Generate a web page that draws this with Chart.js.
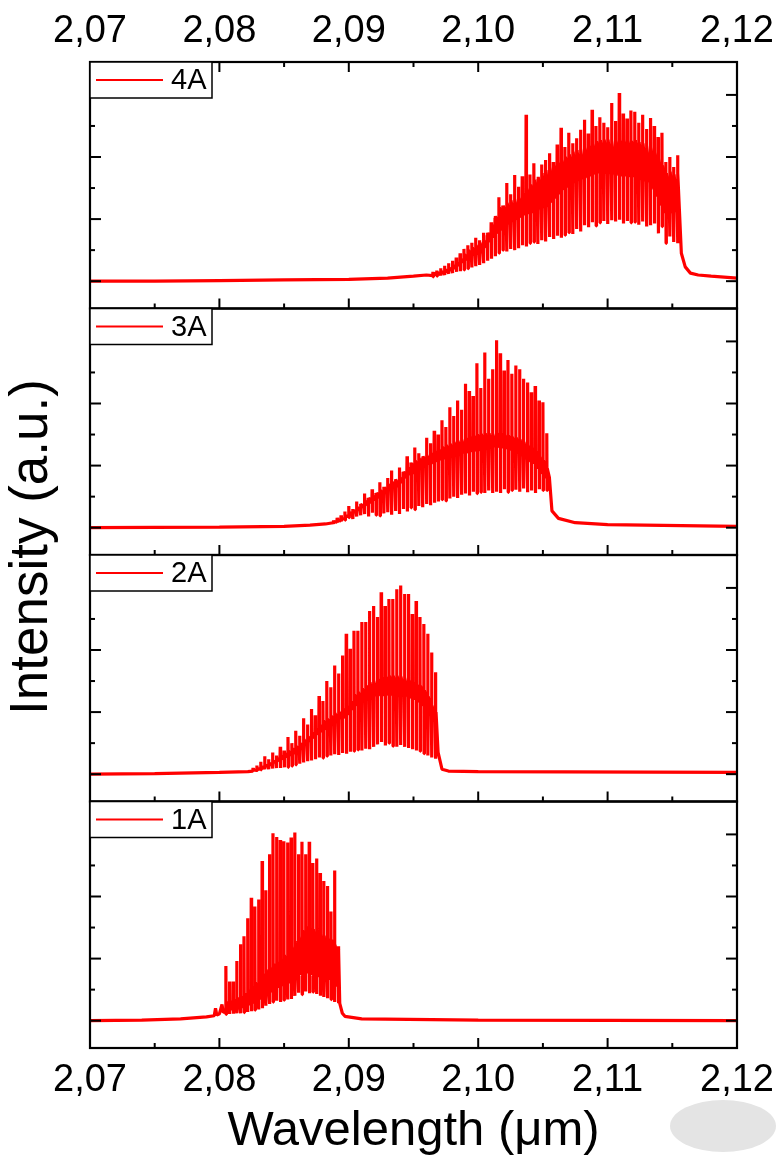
<!DOCTYPE html>
<html>
<head>
<meta charset="utf-8">
<script src="https://cdn.jsdelivr.net/npm/chart.js@4.4.1/dist/chart.umd.min.js"></script>
<style>
  body { margin: 0; background: #fff; }
  #wrap { position: relative; width: 780px; height: 1161px; }
  #smudge { position: absolute; left: 670px; top: 1100px; width: 106px; height: 52px; border-radius: 50%; background: #e4e4e4; }
</style>
</head>
<body>
<div id="wrap">
  <canvas id="spectra" width="780" height="1161"></canvas>
  <div id="smudge"></div>
</div>
<script>
const panelLabels = ['4A', '3A', '2A', '1A'];
const xMajor = [2.07, 2.08, 2.09, 2.10, 2.11, 2.12];
const xMinor = [2.075, 2.085, 2.095, 2.105, 2.115];
const yMajor = [0, 1, 2, 3];
const yMinor = [0.5, 1.5, 2.5];

// longitudinal modes: first mode position and mode spacing (um) per panel
const combStart = [2.0965, 2.0888, 2.0826, 2.0805];
const combStep = [0.0003, 0.0003, 0.0003, 0.00028];

// 4A
const top4A = [0.15, 0.17, 0.21, 0.25, 0.29, 0.33, 0.38, 0.45, 0.52, 0.58,
  0.62, 0.70, 0.66, 0.78, 0.74, 0.95, 1.02, 1.35, 1.22, 1.58,
  1.40, 1.71, 1.52, 1.69, 2.68, 1.72, 1.90, 1.64, 1.88, 1.95,
  2.06, 1.92, 2.20, 2.47, 2.16, 2.39, 2.22, 2.30, 2.44, 2.60,
  2.38, 2.76, 2.50, 2.64, 2.55, 2.48, 2.87, 2.58, 3.03, 2.70,
  2.62, 2.75, 2.73, 2.55, 2.68, 2.45, 2.63, 2.50, 2.32, 2.39,
  1.92, 2.00, 1.84, 2.03];
const dip4A = [0.07, 0.08, 0.09, 0.10, 0.12, 0.13, 0.15, 0.16, 0.18, 0.20,
  0.22, 0.24, 0.26, 0.29, 0.33, 0.36, 0.40, 0.45, 0.50, 0.48,
  0.52, 0.50, 0.53, 0.58, 0.56, 0.61, 0.63, 0.60, 0.66, 0.64,
  0.71, 0.68, 0.73, 0.70, 0.74, 0.78, 0.76, 0.84, 0.80, 0.90,
  0.87, 0.95, 0.89, 0.94, 0.97, 0.92, 0.98, 0.96, 0.99, 0.93,
  0.97, 0.94, 0.95, 0.91, 0.96, 0.88, 0.90, 0.93, 0.77, 0.88,
  0.61, 0.72, 0.63, 0.61];
const bandHi4A = [0.13, 0.14, 0.16, 0.19, 0.22, 0.26, 0.30, 0.36, 0.43, 0.50,
  0.54, 0.58, 0.62, 0.66, 0.78, 0.92, 1.05, 1.19, 1.22, 1.26,
  1.30, 1.33, 1.35, 1.42, 1.50, 1.56, 1.63, 1.68, 1.74, 1.79,
  1.84, 1.88, 1.92, 1.96, 2.00, 2.04, 2.08, 2.11, 2.14, 2.16,
  2.19, 2.22, 2.25, 2.27, 2.28, 2.28, 2.27, 2.27, 2.28, 2.27,
  2.27, 2.26, 2.27, 2.24, 2.22, 2.19, 2.16, 2.08, 1.98, 1.86,
  1.74, 1.76, 1.72, 1.74];
const bandLo4A = [0.09, 0.10, 0.11, 0.12, 0.14, 0.17, 0.20, 0.25, 0.30, 0.34,
  0.38, 0.41, 0.43, 0.45, 0.54, 0.63, 0.70, 0.77, 0.82, 0.87,
  0.91, 0.95, 0.98, 1.02, 1.06, 1.08, 1.10, 1.12, 1.15, 1.17,
  1.19, 1.26, 1.33, 1.40, 1.47, 1.51, 1.55, 1.58, 1.61, 1.63,
  1.66, 1.69, 1.72, 1.74, 1.74, 1.73, 1.72, 1.70, 1.70, 1.69,
  1.69, 1.68, 1.68, 1.65, 1.62, 1.60, 1.58, 1.48, 1.36, 1.22,
  1.10, 1.12, 1.08, 1.10];
const edgeLam4A = [2.07, 2.075, 2.08, 2.085, 2.09, 2.093, 2.095, 2.096, 2.1157, 2.1160, 2.1164, 2.117, 2.118, 2.12];
const edgeVal4A = [0.0, 0.0, 0.01, 0.02, 0.03, 0.05, 0.08, 0.10, 0.45, 0.23, 0.13, 0.10, 0.08, 0.05];

// 3A
const top3A = [0.12, 0.16, 0.20, 0.26, 0.35, 0.30, 0.42, 0.38, 0.55, 0.48,
  0.62, 0.56, 0.73, 0.66, 0.80, 0.92, 0.78, 0.97, 0.90, 1.15,
  1.05, 1.29, 1.20, 1.13, 1.45, 1.36, 1.56, 1.50, 1.73, 1.62,
  1.94, 1.80, 2.05, 1.90, 2.32, 2.20, 2.12, 2.65, 2.25, 2.82,
  2.40, 2.55, 3.02, 2.81, 2.53, 2.70, 2.48, 2.61, 2.55, 2.40,
  2.34, 2.18, 2.28, 2.05, 2.02, 1.52];
const dip3A = [0.06, 0.08, 0.10, 0.12, 0.16, 0.14, 0.18, 0.20, 0.22, 0.18,
  0.24, 0.20, 0.19, 0.23, 0.25, 0.21, 0.27, 0.22, 0.30, 0.26,
  0.32, 0.29, 0.35, 0.33, 0.38, 0.36, 0.40, 0.42, 0.45, 0.43,
  0.47, 0.50, 0.48, 0.53, 0.55, 0.52, 0.58, 0.55, 0.57, 0.56,
  0.60, 0.56, 0.58, 0.56, 0.62, 0.57, 0.60, 0.61, 0.58, 0.63,
  0.57, 0.60, 0.56, 0.62, 0.60, 0.60];
const bandHi3A = [0.10, 0.12, 0.15, 0.19, 0.25, 0.28, 0.33, 0.38, 0.44, 0.48,
  0.52, 0.56, 0.60, 0.65, 0.70, 0.74, 0.78, 0.81, 0.90, 0.98,
  1.04, 1.08, 1.12, 1.15, 1.18, 1.21, 1.24, 1.27, 1.30, 1.33,
  1.35, 1.38, 1.40, 1.43, 1.45, 1.47, 1.49, 1.50, 1.51, 1.52,
  1.52, 1.52, 1.53, 1.52, 1.50, 1.48, 1.46, 1.45, 1.42, 1.38,
  1.33, 1.29, 1.24, 1.15, 1.08, 0.95];
const bandLo3A = [0.08, 0.09, 0.11, 0.14, 0.18, 0.21, 0.24, 0.28, 0.32, 0.36,
  0.40, 0.44, 0.48, 0.52, 0.56, 0.60, 0.63, 0.65, 0.72, 0.80,
  0.85, 0.87, 0.91, 0.95, 0.99, 1.01, 1.03, 1.06, 1.09, 1.11,
  1.13, 1.15, 1.16, 1.18, 1.19, 1.20, 1.22, 1.23, 1.24, 1.24,
  1.26, 1.28, 1.29, 1.29, 1.28, 1.27, 1.25, 1.24, 1.20, 1.15,
  1.10, 1.06, 1.03, 0.95, 0.87, 0.80];
const edgeLam3A = [2.07, 2.08, 2.085, 2.087, 2.0882, 2.1055, 2.1057, 2.1062, 2.1075, 2.11, 2.12];
const edgeVal3A = [0.0, 0.01, 0.02, 0.04, 0.06, 0.81, 0.27, 0.15, 0.08, 0.05, 0.02];

// 2A
const top2A = [0.10, 0.14, 0.20, 0.29, 0.24, 0.35, 0.30, 0.44, 0.38, 0.60,
  0.50, 0.70, 0.62, 0.90, 0.80, 1.05, 0.95, 1.26, 1.18, 1.50,
  1.40, 1.75, 1.62, 1.91, 2.26, 2.02, 2.31, 2.31, 2.45, 2.45,
  2.63, 2.71, 2.53, 2.93, 2.71, 2.82, 2.82, 2.98, 3.04, 2.90,
  2.90, 2.58, 2.79, 2.53, 2.42, 2.26, 1.96, 1.64];
const dip2A = [0.04, 0.06, 0.07, 0.08, 0.08, 0.09, 0.10, 0.10, 0.11, 0.11,
  0.13, 0.15, 0.17, 0.19, 0.21, 0.22, 0.24, 0.27, 0.26, 0.29,
  0.30, 0.32, 0.31, 0.34, 0.33, 0.36, 0.37, 0.39, 0.38, 0.41,
  0.40, 0.44, 0.48, 0.52, 0.46, 0.50, 0.45, 0.44, 0.47, 0.44,
  0.42, 0.40, 0.38, 0.37, 0.33, 0.30, 0.27, 0.25];
const bandHi2A = [0.07, 0.09, 0.12, 0.15, 0.18, 0.22, 0.26, 0.30, 0.34, 0.37,
  0.41, 0.45, 0.50, 0.56, 0.62, 0.68, 0.74, 0.80, 0.86, 0.89,
  0.94, 0.98, 1.02, 1.06, 1.10, 1.18, 1.28, 1.32, 1.38, 1.43,
  1.48, 1.51, 1.54, 1.56, 1.58, 1.58, 1.58, 1.58, 1.57, 1.56,
  1.52, 1.48, 1.45, 1.42, 1.35, 1.25, 1.10, 1.00];
const bandLo2A = [0.05, 0.06, 0.08, 0.10, 0.12, 0.15, 0.18, 0.21, 0.24, 0.27,
  0.30, 0.33, 0.37, 0.40, 0.46, 0.52, 0.58, 0.64, 0.68, 0.72,
  0.76, 0.80, 0.84, 0.88, 0.90, 0.96, 1.04, 1.10, 1.14, 1.18,
  1.21, 1.23, 1.25, 1.26, 1.26, 1.27, 1.27, 1.26, 1.26, 1.25,
  1.24, 1.22, 1.20, 1.16, 1.10, 1.02, 0.94, 0.85];
const edgeLam2A = [2.07, 2.075, 2.08, 2.0822, 2.0969, 2.0972, 2.0977, 2.10, 2.12];
const edgeVal2A = [0.0, 0.01, 0.03, 0.04, 0.35, 0.08, 0.05, 0.04, 0.03];

// 1A
const top1A = [0.88, 0.63, 0.63, 0.96, 1.23, 1.36, 1.65, 1.98, 1.84, 1.95,
  2.57, 2.10, 2.68, 3.02, 2.96, 2.91, 2.89, 2.87, 2.95, 3.03,
  2.68, 2.88, 2.68, 2.88, 2.54, 2.61, 2.38, 2.25, 2.17, 1.76,
  2.42, 1.20];
const dip1A = [0.10, 0.11, 0.11, 0.12, 0.12, 0.13, 0.14, 0.15, 0.17, 0.18,
  0.20, 0.24, 0.27, 0.30, 0.32, 0.30, 0.33, 0.34, 0.35, 0.40,
  0.45, 0.42, 0.47, 0.44, 0.46, 0.43, 0.40, 0.38, 0.36, 0.34,
  0.30, 0.28];
const bandHi1A = [0.30, 0.32, 0.35, 0.37, 0.40, 0.44, 0.50, 0.55, 0.62, 0.70,
  0.77, 0.82, 0.87, 0.92, 0.95, 1.00, 1.06, 1.12, 1.20, 1.28,
  1.36, 1.45, 1.52, 1.50, 1.47, 1.44, 1.40, 1.37, 1.34, 1.30,
  1.22, 1.14];
const bandLo1A = [0.15, 0.16, 0.17, 0.18, 0.20, 0.21, 0.23, 0.25, 0.28, 0.31,
  0.34, 0.38, 0.42, 0.46, 0.50, 0.53, 0.56, 0.58, 0.60, 0.65,
  0.70, 0.74, 0.77, 0.76, 0.74, 0.72, 0.70, 0.69, 0.68, 0.66,
  0.60, 0.55];
const edgeLam1A = [2.07, 2.074, 2.077, 2.079, 2.0796, 2.0797, 2.0798, 2.0800, 2.0802, 2.0803, 2.0893, 2.0895, 2.0897, 2.091, 2.10, 2.12];
const edgeVal1A = [0.0, 0.01, 0.03, 0.06, 0.08, 0.20, 0.09, 0.11, 0.26, 0.13, 0.28, 0.12, 0.07, 0.03, 0.01, 0.0];

const tops = [top4A, top3A, top2A, top1A];
const dips = [dip4A, dip3A, dip2A, dip1A];
const bandHi = [bandHi4A, bandHi3A, bandHi2A, bandHi1A];
const bandLo = [bandLo4A, bandLo3A, bandLo2A, bandLo1A];
const edgeLam = [edgeLam4A, edgeLam3A, edgeLam2A, edgeLam1A];
const edgeVal = [edgeVal4A, edgeVal3A, edgeVal2A, edgeVal1A];

const FONT = '"Liberation Sans", Arial, sans-serif';

function buildSpectrum(p) {
    const pts = edgeLam[p].map((x, i) => ({x: x, y: edgeVal[p][i]}));
    const d = 0.00002;
    tops[p].forEach((t, i) => {
        const x = combStart[p] + combStep[p] * i;
        pts.push({x: x - d, y: bandLo[p][i]});
        pts.push({x: x, y: t});
        pts.push({x: x + d, y: dips[p][i]});
        pts.push({x: x + 2 * d, y: bandHi[p][i]});
    });
    return pts.sort((a, b) => a.x - b.x);
}

const panelIds = panelLabels.map(l => 'y' + l);

// frame, inward ticks, legends and y title
const panelFrame = {
    id: 'panelFrame',
    afterDatasetsDraw(chart) {
        const ctx = chart.ctx;
        const a = chart.chartArea;
        const xs = chart.scales.x;
        ctx.save();
        ctx.strokeStyle = '#000';
        ctx.lineCap = 'butt';

        const line = (x1, y1, x2, y2) => {
            ctx.beginPath();
            ctx.moveTo(x1, y1);
            ctx.lineTo(x2, y2);
            ctx.stroke();
        };

        panelIds.forEach((id, i) => {
            const s = chart.scales[id];
            ctx.lineWidth = 2;
            xMajor.forEach(v => { const px = xs.getPixelForValue(v); line(px, s.bottom, px, s.bottom - 10); });
            xMinor.forEach(v => { const px = xs.getPixelForValue(v); line(px, s.bottom, px, s.bottom - 5); });
            if (i === 0) {
                xMajor.forEach(v => { const px = xs.getPixelForValue(v); line(px, s.top, px, s.top + 10); });
                xMinor.forEach(v => { const px = xs.getPixelForValue(v); line(px, s.top, px, s.top + 5); });
            }
            yMajor.forEach(v => {
                const py = s.getPixelForValue(v);
                line(a.left, py, a.left + 11, py);
                line(a.right, py, a.right - 11, py);
            });
            yMinor.forEach(v => {
                const py = s.getPixelForValue(v);
                line(a.left, py, a.left + 5, py);
                line(a.right, py, a.right - 5, py);
            });
            ctx.lineWidth = 2.2;
            ctx.strokeRect(a.left, s.top, a.right - a.left, s.bottom - s.top);

            // legend box
            const ds = chart.data.datasets[i];
            const bx = a.left, by = s.top;
            ctx.fillStyle = '#fff';
            ctx.fillRect(bx, by, 122, 36);
            ctx.lineWidth = 1.5;
            ctx.strokeRect(bx, by, 122, 36);
            ctx.strokeStyle = ds.borderColor;
            ctx.lineWidth = 2;
            line(bx + 6, by + 18, bx + 73, by + 18);
            ctx.strokeStyle = '#000';
            ctx.fillStyle = '#000';
            ctx.font = '29px ' + FONT;
            ctx.textBaseline = 'middle';
            ctx.textAlign = 'left';
            ctx.fillText(ds.label, bx + 81, by + 19);
        });

        // y title spanning all panels
        ctx.translate(32, 547);
        ctx.rotate(-Math.PI / 2);
        ctx.font = '53px ' + FONT;
        ctx.textAlign = 'center';
        ctx.textBaseline = 'middle';
        ctx.fillText('Intensity (a.u.)', 0, 0);
        ctx.restore();
    }
};

const yPanel = (weight) => ({
    type: 'linear',
    axis: 'y',
    position: 'left',
    stack: 'panels',
    stackWeight: 1,
    weight: weight,
    min: -0.44,
    max: 3.53,
    ticks: { display: false },
    grid: { display: false, drawTicks: false },
    border: { display: false },
    afterFit: s => { s.width = 90; }
});

const xAxis = (pos, h, pad) => ({
    type: 'linear',
    axis: 'x',
    position: pos,
    min: 2.07,
    max: 2.12,
    afterBuildTicks: s => { s.ticks = xMajor.map(v => ({value: v})); },
    ticks: {
        autoSkip: false,
        maxRotation: 0,
        minRotation: 0,
        color: '#000',
        font: { family: FONT, size: 38 },
        padding: pad,
        callback: v => v.toFixed(2).replace('.', ',')
    },
    grid: { display: false },
    border: { display: false },
    afterFit: s => { s.height = h; }
});

const scales = {
    x: Object.assign(xAxis('bottom', 113, 2), {
        title: { display: true, text: 'Wavelength (\u03bcm)', color: '#000', font: { family: FONT, size: 49 }, padding: { top: 0, bottom: 0 } }
    }),
    xTop: xAxis('top', 62, 0)
};
panelIds.forEach((id, i) => { scales[id] = yPanel(4 - i); });

const spectraChart = new Chart(document.getElementById('spectra'), {
    type: 'line',
    data: {
        datasets: panelLabels.map((label, p) => ({
            label: label,
            data: buildSpectrum(p),
            yAxisID: panelIds[p],
            borderColor: '#ff0000',
            borderWidth: 3.2,
            borderJoinStyle: 'bevel',
            pointRadius: 0,
            tension: 0,
            fill: false
        }))
    },
    options: {
        responsive: false,
        animation: false,
        events: [],
        layout: { padding: { right: 43 } },
        plugins: { legend: { display: false }, tooltip: { enabled: false } },
        scales: scales
    },
    plugins: [panelFrame]
});
</script>
</body>
</html>
